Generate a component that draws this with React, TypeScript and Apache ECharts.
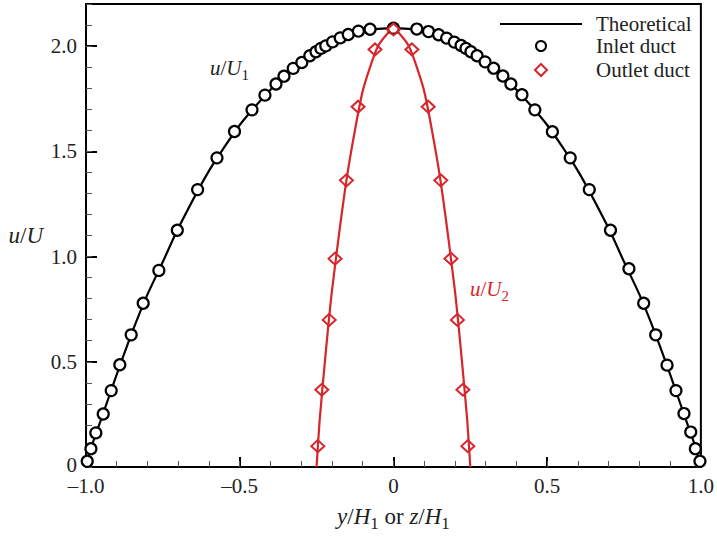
import React, { useEffect, useRef } from "react";
import * as echarts from "echarts";

const FONT = '"Liberation Serif", "Times New Roman", serif';
const RED = "#d7262b";
const INK = "#222";

// Inlet duct measurements (y/H1, u/U1)
const inletX = [
  -0.996, -0.984, -0.968, -0.944, -0.918, -0.89, -0.853, -0.814, -0.763, -0.703,
  -0.637, -0.574, -0.517, -0.46, -0.418, -0.382, -0.356, -0.326, -0.298, -0.272,
  -0.252, -0.236, -0.22, -0.198, -0.173, -0.147, -0.114, -0.076, 0,
  0.076, 0.114, 0.147, 0.173, 0.198, 0.22, 0.236, 0.252, 0.272, 0.298,
  0.326, 0.356, 0.382, 0.418, 0.46, 0.517, 0.575, 0.637, 0.706, 0.766,
  0.814, 0.853, 0.89, 0.919, 0.945, 0.967, 0.982, 0.997,
];
const inletU = [
  0.027, 0.087, 0.162, 0.252, 0.363, 0.486, 0.628, 0.778, 0.934, 1.125,
  1.318, 1.469, 1.594, 1.697, 1.767, 1.82, 1.857, 1.894, 1.922, 1.954,
  1.973, 1.989, 2.001, 2.02, 2.039, 2.055, 2.071, 2.08, 2.085,
  2.081, 2.069, 2.054, 2.038, 2.019, 2.003, 1.989, 1.973, 1.954, 1.925,
  1.895, 1.858, 1.82, 1.769, 1.697, 1.593, 1.469, 1.318, 1.125, 0.942,
  0.778, 0.628, 0.484, 0.363, 0.254, 0.166, 0.087, 0.027,
];

// Theoretical profile, inlet duct
const theoX = [
  -1.0, -0.98, -0.95, -0.9, -0.85, -0.8, -0.75, -0.7, -0.6, -0.5, -0.4, -0.3, -0.2, -0.1, 0,
  0.1, 0.2, 0.3, 0.4, 0.5, 0.6, 0.7, 0.75, 0.8, 0.85, 0.9, 0.95, 0.98, 1.0,
];
const theoU = [
  0, 0.106, 0.23, 0.44, 0.64, 0.82, 0.975, 1.134, 1.407, 1.625, 1.793, 1.92, 2.018, 2.074, 2.085,
  2.074, 2.018, 1.92, 1.793, 1.625, 1.407, 1.134, 0.975, 0.82, 0.64, 0.44, 0.23, 0.106, 0,
];

// Outlet duct measurements (y/H1, u/U2)
const outletX = [
  -0.246, -0.233, -0.209, -0.19, -0.153, -0.115, -0.06, 0,
  0.06, 0.113, 0.154, 0.187, 0.208, 0.226, 0.242,
];
const outletU = [
  0.099, 0.367, 0.699, 0.99, 1.362, 1.712, 1.984, 2.079,
  1.984, 1.712, 1.362, 0.99, 0.699, 0.367, 0.099,
];

// Theoretical profile, outlet duct
const outTheoX = [-0.25, -0.24, -0.22, -0.2, -0.15, -0.1, -0.05, 0, 0.05, 0.1, 0.15, 0.2, 0.22, 0.24, 0.25];
const outTheoU = [0, 0.223, 0.547, 0.837, 1.39, 1.786, 2.0, 2.082, 2.0, 1.786, 1.39, 0.837, 0.547, 0.223, 0];

const zip = (xs: number[], ys: number[]) => xs.map((x, i) => [x, ys[i]]);

const fmt = (v: number) => {
  if (Math.abs(v) < 1e-9) return "0";
  const s = Math.abs(v).toFixed(1);
  return v < 0 ? "\u2013" + s : s;
};

const fmtY = (v: number) => (Math.abs(v) < 1e-9 ? "{z|0}" : v.toFixed(1));

const richBase = (color: string, size = 21) => ({
  i: { fontFamily: FONT, fontSize: size, fontStyle: "italic", color, fill: color, lineHeight: size + 8, verticalAlign: "middle" },
  n: { fontFamily: FONT, fontSize: size, color, fill: color, lineHeight: size + 8, verticalAlign: "middle" },
  s: { fontFamily: FONT, fontSize: Math.round(size * 0.72), color, fill: color, lineHeight: Math.round(size * 0.72), verticalAlign: "bottom" },
});

export default function App() {
  const ref = useRef<HTMLDivElement>(null);
  useEffect(() => {
    if (!ref.current) return;
    const chart = echarts.init(ref.current, undefined, { renderer: "svg" });
    const gridRect = { left: 86, top: 4, width: 617, height: 464 };
    const legendText = (padLeft: number) => ({
      fontFamily: FONT, fontSize: 21, color: INK, lineHeight: 22, padding: [0, 0, 0, padLeft],
    });
    chart.setOption({
      animation: false,
      backgroundColor: "#fff",
      grid: { ...gridRect, show: true, borderColor: "#000", borderWidth: 2, backgroundColor: "transparent" },
      legend: [
        {
          data: ["Theoretical"], left: 499, top: 13, padding: 0, itemWidth: 82, itemHeight: 10,
          selectedMode: false, textStyle: legendText(9), itemStyle: { opacity: 0 },
          lineStyle: { color: "#000", width: 2 },
        },
        {
          data: ["Inlet duct"], left: 535, top: 35, padding: 0, itemWidth: 10, itemHeight: 10,
          selectedMode: false, textStyle: legendText(45),
        },
        {
          data: ["Outlet duct"], left: 534, top: 59, padding: 0, itemWidth: 12, itemHeight: 12,
          selectedMode: false, textStyle: legendText(44),
        },
      ],
      xAxis: [
        {
          type: "value", min: -1, max: 1, interval: 0.5, position: "bottom",
          axisLine: { show: true, onZero: false, lineStyle: { color: "#000", width: 2 } },
          axisTick: { show: true, inside: true, length: 10, lineStyle: { color: "#000", width: 2 } },
          axisLabel: { formatter: fmt, fontFamily: FONT, fontSize: 21, color: INK, margin: 11, lineHeight: 16 },
          splitLine: { show: false },
          name: "{i|y}{n|/}{i|H}{s|1}{n| or }{i|z}{n|/}{i|H}{s|1}",
          nameLocation: "middle", nameGap: 34,
          nameTextStyle: { rich: richBase(INK, 23) },
        },
        {
          type: "value", min: -1, max: 1, interval: 0.1, position: "bottom",
          axisLine: { show: false, onZero: false },
          axisTick: { show: true, inside: true, length: 6, lineStyle: { color: "#555", width: 1 } },
          axisLabel: { show: false },
          splitLine: { show: false },
        },
      ],
      yAxis: [
        {
          type: "value", min: 0, max: 2.2, interval: 0.5, position: "left",
          axisLine: { show: true, onZero: false, lineStyle: { color: "#000", width: 2 } },
          axisTick: { show: true, inside: true, length: 11, lineStyle: { color: "#000", width: 2 } },
          axisLabel: {
            formatter: fmtY, fontFamily: FONT, fontSize: 21, color: INK, margin: 9, lineHeight: 16, showMaxLabel: false,
            rich: { z: { fontFamily: FONT, fontSize: 21, color: INK, lineHeight: 16, padding: [0, 0, 5, 0] } },
          },
          splitLine: { show: false },
          name: "{i|u}{n|/}{i|U}",
          nameLocation: "middle", nameGap: 43, nameRotate: 0,
          nameTextStyle: { rich: richBase(INK, 23) },
        },
        {
          type: "value", min: 0, max: 2.2, interval: 0.1, position: "left",
          axisLine: { show: false, onZero: false },
          axisTick: { show: true, inside: true, length: 6, lineStyle: { color: "#555", width: 1 } },
          axisLabel: { show: false },
          splitLine: { show: false },
        },
      ],
      graphic: [
        {
          type: "text", left: 210, top: 57,
          style: { text: "{i|u}{n|/}{i|U}{s|1}", fill: INK, rich: richBase(INK, 21) },
        },
        {
          type: "text", left: 470, top: 278,
          style: { text: "{i|u}{n|/}{i|U}{s|2}", fill: RED, rich: richBase(RED, 21) },
        },
      ],
      series: [
        {
          name: "Theoretical", type: "line", data: zip(theoX, theoU),
          showSymbol: false, symbol: "none", smooth: 0.2,
          lineStyle: { color: "#000", width: 2.2 }, itemStyle: { color: "#000" }, z: 2,
        },
        {
          name: "Theoretical outlet", type: "line", data: zip(outTheoX, outTheoU),
          showSymbol: false, symbol: "none", smooth: 0.2,
          lineStyle: { color: RED, width: 2.2 }, itemStyle: { color: RED }, z: 2,
        },
        {
          name: "Inlet duct", type: "scatter", data: zip(inletX, inletU),
          symbol: "circle", symbolSize: 11,
          itemStyle: { color: "#fff", borderColor: "#000", borderWidth: 2.2, opacity: 1 }, z: 3,
        },
        {
          name: "Outlet duct", type: "scatter", data: zip(outletX, outletU),
          symbol: "diamond", symbolSize: [13, 12],
          itemStyle: { color: "rgba(255,255,255,0)", borderColor: RED, borderWidth: 2, opacity: 1 }, z: 4,
        },
      ],
    });
    return () => chart.dispose();
  }, []);
  return (
    <div
      ref={ref}
      style={{ position: "fixed", left: 0, top: 0, width: 717, height: 537, background: "#fff" }}
    />
  );
}
